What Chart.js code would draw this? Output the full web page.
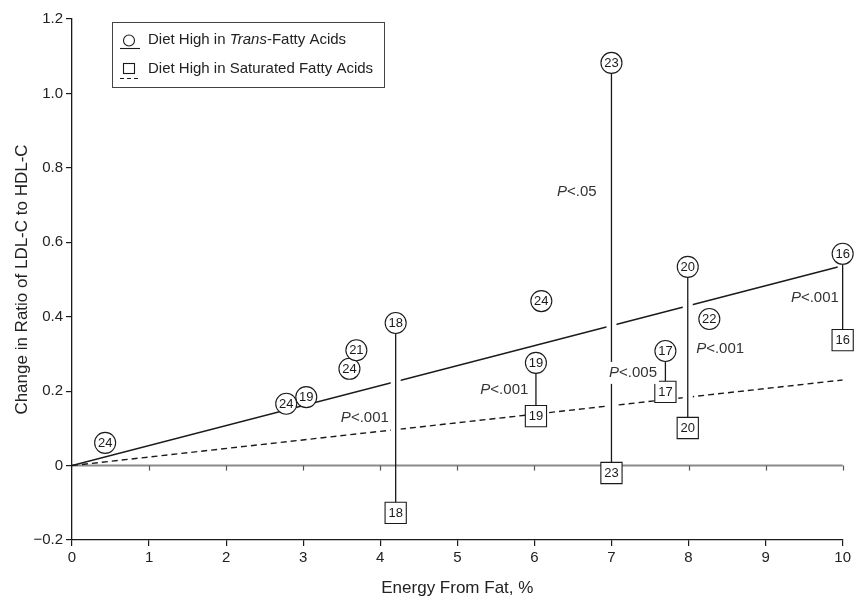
<!DOCTYPE html>
<html>
<head>
<meta charset="utf-8">
<script src="https://cdn.jsdelivr.net/npm/chart.js@4.4.1/dist/chart.umd.min.js"></script>
<style>
  html, body { margin: 0; padding: 0; background: #fff; }
  #wrap { width: 854px; height: 596px; position: relative; }
</style>
</head>
<body>
<div id="wrap"><canvas id="fatChart"></canvas></div>
<script>
// trans-fatty acid diets (circles): x = energy from fat %, y = change in LDL/HDL ratio, n = study size
const transX = [0.43, 2.78, 3.04, 3.6, 3.69, 4.2, 6.09, 6.02, 7.0, 7.7, 7.99, 8.27, 10.0];
const transY = [0.061, 0.166, 0.184, 0.26, 0.31, 0.383, 0.442, 0.276, 1.082, 0.308, 0.534, 0.394, 0.569];
const transN = [24, 24, 19, 24, 21, 18, 24, 19, 23, 17, 20, 22, 16];

// saturated fatty acid diets (squares)
const satX = [4.2, 6.02, 7.0, 7.7, 7.99, 10.0];
const satY = [-0.127, 0.133, -0.02, 0.198, 0.101, 0.337];
const satN = [18, 19, 23, 17, 20, 16];

// regression lines
const fitX = [0, 10];
const transFitY = [0, 0.537];
const satFitY = [0, 0.23];

// P value notes (placed in data units)
const pText = ['.05', '.001', '.001', '.005', '.001', '.001'];
const pX = [6.55, 3.8, 5.61, 7.28, 8.41, 9.64];
const pY = [0.735, 0.128, 0.203, 0.249, 0.313, 0.45];

const xTicks = [0, 1, 2, 3, 4, 5, 6, 7, 8, 9, 10];

const FONT = "'Liberation Sans', Arial, Helvetica, sans-serif";
const INK = '#1a1a1a';

function pts(xs, ys) {
    return xs.map((x, i) => ({ x: x, y: ys[i] }));
}

// vertical connectors between a saturated study and the trans point at the same x
const connectors = satX.map((x, i) => {
    const j = transX.findIndex(t => Math.abs(t - x) < 0.001);
    return { x: x, hi: transY[j], lo: satY[i] };
});

const datasets = [];

// markers on top
datasets.push({
    label: 'trans',
    data: pts(transX, transY),
    showLine: false,
    pointStyle: 'circle',
    pointRadius: 10.5,
    pointBackgroundColor: '#fff',
    pointBorderColor: INK,
    pointBorderWidth: 1.1,
    clip: false,
    order: 0
});
datasets.push({
    label: 'sat',
    data: pts(satX, satY),
    showLine: false,
    pointStyle: 'rect',
    pointRadius: 15,
    pointBackgroundColor: '#fff',
    pointBorderColor: INK,
    pointBorderWidth: 1.1,
    clip: false,
    order: 0
});

connectors.forEach(c => {
    datasets.push({
        data: [{ x: c.x, y: c.hi }, { x: c.x, y: c.lo }],
        showLine: true,
        borderColor: INK,
        borderWidth: 1.3,
        pointRadius: 0,
        clip: false,
        order: 1
    });
    // white halo so the fit lines break where they are crossed
    datasets.push({
        data: [{ x: c.x, y: c.hi }, { x: c.x, y: Math.max(c.lo, 0.03) }],
        showLine: true,
        borderColor: '#fff',
        borderWidth: 10,
        pointRadius: 0,
        clip: false,
        order: 2
    });
});

datasets.push({
    data: pts(fitX, transFitY),
    showLine: true,
    borderColor: INK,
    borderWidth: 1.5,
    pointRadius: 0,
    order: 3
});
datasets.push({
    data: pts(fitX, satFitY),
    showLine: true,
    borderColor: INK,
    borderWidth: 1.4,
    borderDash: [6, 4],
    pointRadius: 0,
    order: 3
});

// zero line with its little downward ticks
const zeroLine = {
    id: 'zeroLine',
    beforeDatasetsDraw(chart) {
        const { ctx, chartArea } = chart;
        const xs = chart.scales.x, ys = chart.scales.y;
        const y0 = ys.getPixelForValue(0);
        ctx.save();
        ctx.strokeStyle = '#8a8a8a';
        ctx.lineWidth = 2;
        ctx.beginPath();
        ctx.moveTo(chartArea.left, y0);
        ctx.lineTo(chartArea.right, y0);
        ctx.stroke();
        ctx.lineWidth = 1.2;
        ctx.strokeStyle = '#555';
        xTicks.forEach(t => {
            if (t === 0) return;
            const px = Math.round(xs.getPixelForValue(t)) + 0.5;
            ctx.beginPath();
            ctx.moveTo(px, y0);
            ctx.lineTo(px, y0 + 5);
            ctx.stroke();
        });
        ctx.restore();
    }
};

// numbers inside markers and the P notes
const notes = {
    id: 'notes',
    afterDatasetsDraw(chart) {
        const { ctx } = chart;
        const xs = chart.scales.x, ys = chart.scales.y;
        ctx.save();
        ctx.textAlign = 'center';
        ctx.textBaseline = 'middle';
        ctx.fillStyle = INK;
        ctx.font = '13px ' + FONT;
        [[0, transN], [1, satN]].forEach(([di, nums]) => {
            chart.getDatasetMeta(di).data.forEach((el, i) => {
                ctx.fillText(String(nums[i]), el.x, el.y + 0.5);
            });
        });

        ctx.font = '15px ' + FONT;
        const italic = 'italic 15px ' + FONT;
        pText.forEach((t, i) => {
            const cx = xs.getPixelForValue(pX[i]);
            const cy = ys.getPixelForValue(pY[i]);
            ctx.font = italic;
            const wP = ctx.measureText('P').width;
            ctx.font = '15px ' + FONT;
            const rest = '<' + t;
            const wR = ctx.measureText(rest).width;
            const left = cx - (wP + wR) / 2;
            ctx.fillStyle = '#fff';
            ctx.fillRect(left - 2, cy - 11, wP + wR + 4, 22);
            ctx.fillStyle = '#333';
            ctx.textAlign = 'left';
            ctx.font = italic;
            ctx.fillText('P', left, cy);
            ctx.font = '15px ' + FONT;
            ctx.fillText(rest, left + wP, cy);
        });
        ctx.restore();
    },
    afterDraw(chart) {
        const { ctx } = chart;
        ctx.save();
        const reg = '15px ' + FONT, ita = 'italic 15px ' + FONT;
        ctx.font = reg;
        const line2 = 'Diet High in Saturated Fatty Acids';
        const boxRight = Math.ceil(148 + ctx.measureText(line2).width + 10);

        // legend box
        ctx.strokeStyle = '#444';
        ctx.lineWidth = 1;
        ctx.strokeRect(112.5, 22.5, boxRight - 112, 65);
        ctx.strokeStyle = INK;
        ctx.lineWidth = 1.1;
        ctx.beginPath();
        ctx.arc(129, 40.5, 5.5, 0, Math.PI * 2);
        ctx.stroke();
        ctx.beginPath();
        ctx.moveTo(120, 48.5);
        ctx.lineTo(140, 48.5);
        ctx.stroke();
        ctx.strokeRect(123.5, 63.5, 11, 10);
        ctx.setLineDash([4, 3]);
        ctx.beginPath();
        ctx.moveTo(120, 78.5);
        ctx.lineTo(140, 78.5);
        ctx.stroke();
        ctx.setLineDash([]);

        ctx.fillStyle = '#222';
        ctx.textBaseline = 'middle';
        ctx.textAlign = 'left';
        let x = 148;
        [['Diet High in ', reg], ['Trans', ita], ['-Fatty Acids', reg]].forEach(([s, f]) => {
            ctx.font = f;
            ctx.fillText(s, x, 40);
            x += ctx.measureText(s).width;
        });
        ctx.font = reg;
        ctx.fillText(line2, 148, 69);
        ctx.restore();
    }
};

const ctx = document.getElementById('fatChart');
new Chart(ctx, {
    type: 'scatter',
    data: { datasets: datasets },
    options: {
        responsive: true,
        maintainAspectRatio: false,
        animation: false,
        events: [],
        layout: { padding: { top: 19, right: 9, left: 0, bottom: 0 }, autoPadding: false },
        plugins: {
            legend: { display: false },
            tooltip: { enabled: false }
        },
        scales: {
            x: {
                type: 'linear',
                min: 0,
                max: 10,
                afterBuildTicks: s => { s.ticks = xTicks.map(v => ({ value: v })); },
                ticks: {
                    color: '#222',
                    font: { family: FONT, size: 15 },
                    padding: 3,
                    maxRotation: 0,
                    callback: v => String(v)
                },
                grid: { drawOnChartArea: false, drawTicks: true, tickLength: 6, color: INK, lineWidth: 1.2 },
                border: { color: INK, width: 1.3 },
                title: {
                    display: true,
                    text: 'Energy From Fat, %',
                    color: '#222',
                    font: { family: FONT, size: 17 },
                    padding: { top: 0, bottom: -3 }
                },
                afterFit: s => { s.height = 56; }
            },
            y: {
                type: 'linear',
                min: -0.2,
                max: 1.2,
                ticks: {
                    stepSize: 0.2,
                    color: '#222',
                    font: { family: FONT, size: 15 },
                    padding: 3,
                    callback: v => {
                        if (Math.abs(v) < 1e-9) return '0';
                        return (v < 0 ? '\u2212' : '') + Math.abs(v).toFixed(1);
                    }
                },
                grid: { drawOnChartArea: false, drawTicks: true, tickLength: 6, color: INK, lineWidth: 1.2 },
                border: { color: INK, width: 1.3 },
                title: {
                    display: true,
                    text: 'Change in Ratio of LDL-C to HDL-C',
                    color: '#222',
                    font: { family: FONT, size: 17 },
                    padding: { top: 12, bottom: 0 }
                },
                afterFit: s => { s.width = 72; }
            }
        }
    },
    plugins: [zeroLine, notes]
});
</script>
</body>
</html>
